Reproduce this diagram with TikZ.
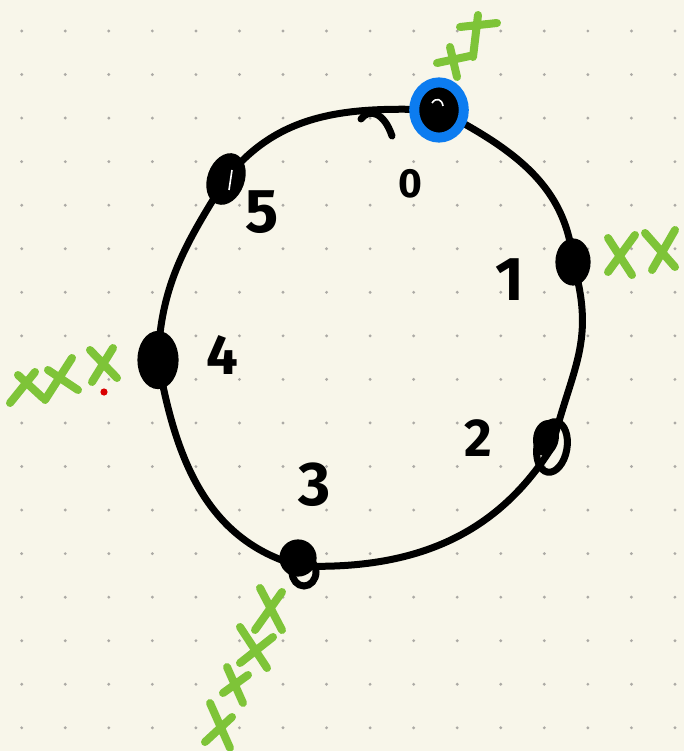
\documentclass[tikz,border=0pt]{standalone}
\usepackage{fontspec}
\setmainfont{Fira Sans}
\usepackage{tikz}
\usetikzlibrary{shapes.geometric}
\definecolor{papercol}{RGB}{248,246,234}
\definecolor{dotcol}{RGB}{172,170,165}
\definecolor{tickgreen}{RGB}{126,196,56}
\definecolor{ringblue}{RGB}{12,124,240}
\tikzset{
  ring/.style={draw, line width=1.75mm, line cap=round, line join=round},
  knot/.style={draw, fill=black, ellipse, inner sep=0pt, line width=0.8mm},
  loopknot/.style={draw, ellipse, inner sep=0pt, line width=1.75mm},
  tick/.style={draw=tickgreen, line width=2mm, line cap=round},
  numlbl/.style={font=\bfseries, inner sep=0pt}
}

\begin{document}
\begin{tikzpicture}[x=0.25mm, y=0.25mm]
\useasboundingbox (0,0) rectangle (684,-751);
\fill[papercol] (0,0) rectangle (684,-751);
% dotted paper
\foreach \i in {0,...,15} {
  \foreach \j in {0,...,16} {
    \fill[dotcol] (21.7+43.55*\i,-31-43.55*\j) circle (0.4mm);
  }
}
% the six knots on the loop
\coordinate (k0) at (439,-110);
\coordinate (k1) at (573,-262);
\coordinate (k2) at (552,-447);
\coordinate (k3) at (300,-566);
\coordinate (k4) at (158,-360);
\coordinate (k5) at (226,-179);
\draw[ring] (k0) to[out=-28,in=95] (k1)
  to[out=-74,in=76,looseness=1.15] (k2)
  to[out=-122,in=-2] (k3)
  to[out=165,in=-80] (k4)
  to[out=88,in=-122] (k5)
  to[out=52,in=178] (k0);
\draw[ring] (361,-119) .. controls (369,-108) and (384,-112) .. (392,-136);
\node[knot, minimum width=10mm, minimum height=11mm] (n0) at (k0) {};
\draw[ringblue, line width=2.5mm] (k0) ellipse (6.2mm and 6.9mm);
\draw[white, line width=0.4mm] (432,-103) .. controls (436,-97) and (442,-99) .. (443,-106);
\node[knot, minimum width=8mm, minimum height=11mm] (n1) at (k1) {};
\node[loopknot, minimum width=7.5mm, minimum height=12.75mm, rotate=-10] (n2) at (k2) {};
\fill[black, rotate around={-10:(546,-438)}] (546,-438) ellipse (3.2mm and 4.5mm);
\node[knot, minimum width=8.5mm, minimum height=8.5mm] (n3) at (298,-558) {};
\node[loopknot, minimum width=6mm, minimum height=7mm] (n3b) at (304,-572) {};
\node[knot, minimum width=9.5mm, minimum height=13.75mm] (n4) at (k4) {};
\node[knot, minimum width=8.5mm, minimum height=12.5mm, rotate=-20] (n5) at (k5) {};
\draw[white, line width=0.4mm] (232,-170) -- (229,-190);
% numbers
\node[numlbl, font=\bfseries\fontsize{29}{30}\selectfont] (l0) at (410,-184) {0};
\node[numlbl, font=\bfseries\fontsize{44}{46}\selectfont] (l1) at (510,-280) {1};
\node[numlbl, font=\bfseries\fontsize{38}{40}\selectfont] (l2) at (478,-438) {2};
\node[numlbl, font=\bfseries\fontsize{44}{46}\selectfont] (l3) at (315,-485) {3};
\node[numlbl, font=\bfseries\fontsize{40}{42}\selectfont] (l4) at (222,-355) {4};
\node[numlbl, font=\bfseries\fontsize{44}{46}\selectfont] (l5) at (262,-212) {5};
% green ticks
\draw[tick] (437,-63) -- (470,-56) (450,-47) -- (457,-77);
\draw[tick] (460,-27) -- (497,-23) (478,-15) -- (473,-57);
\draw[tick] (608,-238) -- (632,-275) (635,-235) -- (608,-272);
\draw[tick] (645,-233) -- (675,-267) (675,-230) -- (652,-270);
\draw[tick] (10,-403) -- (35,-372) (18,-375) -- (43,-398);
\draw[tick] (45,-400) -- (72,-358) (48,-370) -- (78,-390);
\draw[tick] (90,-350) -- (117,-378) (113,-348) -- (92,-382);
\draw[tick] (260,-588) -- (282,-630) (282,-592) -- (255,-630);
\draw[tick] (240,-627) -- (267,-668) (273,-637) -- (240,-663);
\draw[tick] (227,-667) -- (243,-703) (248,-675) -- (223,-693);
\draw[tick] (210,-703) -- (230,-748) (232,-717) -- (205,-742);
\fill[red!85!black] (104,-392) circle (0.9mm);
\end{tikzpicture}
\end{document}
